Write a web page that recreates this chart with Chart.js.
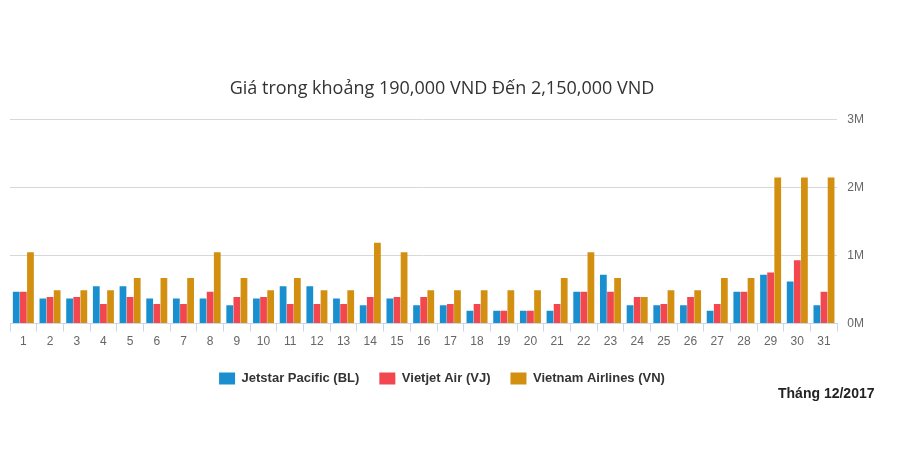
<!DOCTYPE html>
<html><head><meta charset="utf-8">
<script src="https://cdn.jsdelivr.net/npm/chart.js@4.4.1/dist/chart.umd.min.js"></script>
<style>
body{margin:0;background:#fff;font-family:"Open Sans",Arial,sans-serif}
#wrap{position:relative;width:900px;height:471px}
#note{position:absolute;left:778px;top:385px;font:bold 14px Arial,"Liberation Sans",sans-serif;color:#222}
</style></head><body>
<div id="wrap"><canvas id="c" width="900" height="471"></canvas><div id="note">Tháng 12/2017</div></div>
<script>
const days = Array.from({length: 31}, (_, i) => String(i + 1));
const jetstar = [.47,.37,.37,.55,.55,.37,.37,.37,.27,.37,.55,.55,.37,.27,.37,.27,.27,.19,.19,.19,.19,.47,.72,.27,.27,.27,.19,.47,.72,.62,.27];
const vietjet = [.47,.39,.39,.29,.39,.29,.29,.47,.39,.39,.29,.29,.29,.39,.39,.39,.29,.29,.19,.19,.29,.47,.47,.39,.29,.39,.29,.47,.75,.93,.47];
const vna = [1.05,.49,.49,.49,.67,.67,.67,1.05,.67,.49,.67,.49,.49,1.19,1.05,.49,.49,.49,.49,.49,.67,1.05,.67,.39,.49,.49,.67,.67,2.15,2.15,2.15];
const M = v => v * 1e6;

new Chart(document.getElementById("c"), {
  type: "bar",
  data: {
    labels: days,
    datasets: [
      {label: "Jetstar Pacific (BL)", data: jetstar.map(M), backgroundColor: "#1a8fd0"},
      {label: "Vietjet Air (VJ)", data: vietjet.map(M), backgroundColor: "#f2474f"},
      {label: "Vietnam Airlines (VN)", data: vna.map(M), backgroundColor: "#d38f10"}
    ]
  },
  options: {
    responsive: false, animation: false,
    layout: {padding: {left: 10, right: 26, top: 78, bottom: 76}},
    datasets: {bar: {categoryPercentage: 0.8, barPercentage: 0.95}},
    plugins: {
      title: {display: true, text: "Giá trong khoảng 190,000 VND Đến 2,150,000 VND",
        color: "#333", font: {size: 18, weight: "normal", family: "Open Sans"}, padding: {bottom: 20}},
      legend: {position: "bottom", align: "center",
        labels: {boxWidth: 16, boxHeight: 12, padding: 20, color: "#333",
          font: {size: 13, weight: "bold", family: "Arial"}}},
      tooltip: {enabled: false}
    },
    scales: {
      x: {grid: {display: true, drawOnChartArea: false, color: "#ccd6eb", tickLength: 8},
        border: {color: "#ccd6eb"}, ticks: {color: "#666", font: {size: 12}}},
      y: {position: "right", min: 0, max: 3e6,
        ticks: {stepSize: 1e6, color: "#666", font: {size: 12}, padding: 10, callback: v => (v / 1e6) + "M"},
        grid: {color: "#d8d8d8", drawTicks: false}, border: {display: false}}
    }
  }
});
</script></body></html>
